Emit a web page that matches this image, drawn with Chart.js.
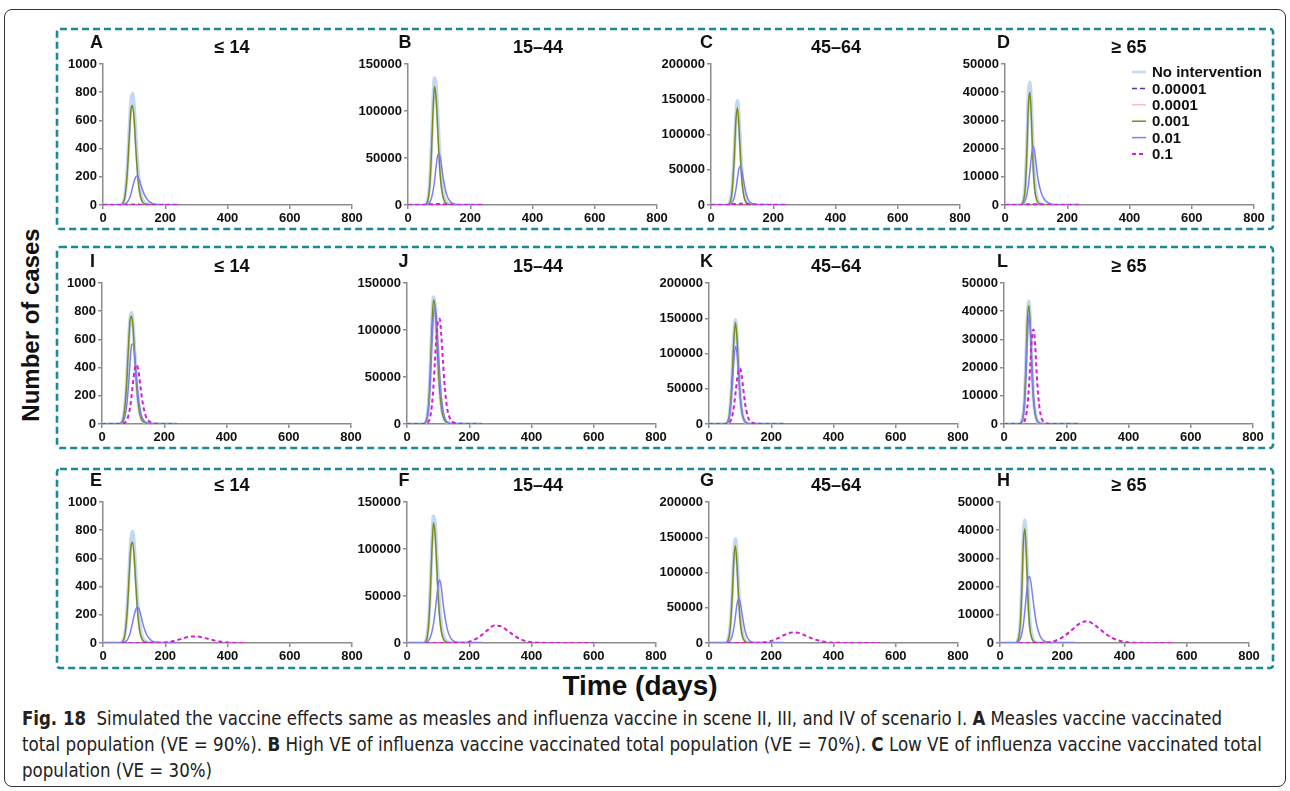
<!DOCTYPE html>
<html>
<head>
<meta charset="utf-8">
<script src="https://cdn.jsdelivr.net/npm/chart.js@4.4.1/dist/chart.umd.min.js"></script>
<style>
  body { margin: 0; background: #fff; width: 1290px; height: 791px; overflow: hidden; position: relative;
         font-family: "Liberation Sans", Arial, sans-serif; }
  .frame { position: absolute; left: 4px; top: 9px; width: 1282px; height: 778px; border: 1.5px solid #333;
           border-radius: 8px; box-sizing: border-box; }
  canvas { position: absolute; }
  .ylab { position: absolute; left: 31px; top: 325px; transform: translate(-50%, -50%) rotate(-90deg);
          font-weight: bold; font-size: 24px; white-space: nowrap; color: #111; }
  .xlab { position: absolute; left: 640px; top: 686px; transform: translate(-50%, -50%);
          font-weight: bold; font-size: 28px; white-space: nowrap; color: #111; }
  .cap { position: absolute; left: 22px; white-space: nowrap; font-size: 19px; line-height: 20px; color: #222;
         font-family: "Liberation Sans Narrow", "DejaVu Sans Condensed", "Open Sans", sans-serif;
         transform-origin: 0 50%; }
</style>
</head>
<body>
<div class="frame"></div>
<svg width="1290" height="791" style="position:absolute;left:0;top:0">
  <g fill="none" stroke="#1d889a" stroke-width="2.6" stroke-dasharray="7 4">
    <rect x="57" y="29" width="1216" height="200" rx="3"/>
    <rect x="57" y="247" width="1216" height="201" rx="3"/>
    <rect x="57" y="469" width="1216" height="199" rx="3"/>
  </g>
</svg>
<div class="ylab">Number of cases</div>
<div class="xlab">Time (days)</div>
<div class="cap" id="cap1" style="top:708px"><b>Fig. 18</b>&nbsp; Simulated the vaccine effects same as measles and influenza vaccine in scene II, III, and IV of scenario I. <b>A</b> Measles vaccine vaccinated</div>
<div class="cap" id="cap2" style="top:734px">total population (VE = 90%). <b>B</b> High VE of influenza vaccine vaccinated total population (VE = 70%). <b>C</b> Low VE of influenza vaccine vaccinated total</div>
<div class="cap" id="cap3" style="top:760px">population (VE = 30%)</div>

<script>
// time grids (days)
const earlyDays = [0, 50, 55, 60, 65, 70, 75, 80, 85, 90, 95, 100, 105, 110, 115, 120, 125, 130, 140, 150, 160, 180, 200, 240];
const lateDays = [60, 140, 160, 180, 200, 220, 240, 260, 280, 300, 320, 340, 360, 380, 400, 420, 450, 500, 550, 600];

const seriesLabels = ['No intervention', '0.00001', '0.0001', '0.001', '0.01', '0.1'];
const ageGroups = ['\u2264 14', '15\u201344', '45\u201364', '\u2265 65'];
const yMaxes = [1000, 150000, 200000, 50000];
const ySteps = [200, 50000, 50000, 10000];
const xTicks = [0, 200, 400, 600, 800];

// no intervention (same in every row)
const noInt14 = [0, 0, 1, 5, 20, 60, 160, 330, 560, 740, 790, 700, 510, 330, 190, 100, 52, 26, 8, 2, 1, 0, 0, 0];
const noInt1544 = [0, 0, 500, 2000, 8000, 25000, 60000, 105000, 135000, 128000, 100000, 66000, 38000, 20000, 10000, 5000, 2500, 1300, 400, 120, 40, 0, 0, 0];
const noInt4564 = [0, 0, 800, 3000, 12000, 35000, 75000, 125000, 148000, 125000, 80000, 42000, 20000, 9000, 4000, 1500, 700, 300, 80, 20, 0, 0, 0, 0];
const noInt65 = [0, 0, 500, 2000, 7000, 20000, 38000, 43500, 35000, 20000, 9000, 4000, 1700, 700, 300, 100, 40, 10, 0, 0, 0, 0, 0, 0];

// row A-D
const oliveA = [0, 0, 1, 4, 16, 52, 145, 300, 510, 675, 705, 610, 420, 250, 130, 62, 28, 12, 4, 1, 0, 0, 0, 0];
const periA = [0, 0, 0, 1, 3, 6, 13, 26, 48, 82, 125, 168, 198, 205, 188, 155, 120, 88, 46, 22, 10, 2, 0, 0];
const magA = [0, 0, 0, 0, 1, 1, 2, 2, 3, 3, 3, 3, 3, 3, 3, 2, 2, 2, 1, 1, 0, 0, 0, 0];
const oliveB = [0, 0, 400, 1500, 6500, 21000, 53000, 97000, 126000, 115000, 84000, 50000, 26000, 12500, 5500, 2400, 1000, 450, 120, 30, 0, 0, 0, 0];
const periB = [0, 0, 100, 300, 1000, 3000, 7000, 14000, 25000, 40000, 52000, 55000, 48000, 36000, 25000, 16500, 10500, 6500, 2500, 900, 300, 50, 0, 0];
const magB = [0, 0, 0, 300, 500, 700, 800, 900, 1000, 1000, 1000, 1000, 1000, 900, 800, 700, 600, 500, 300, 150, 50, 0, 0, 0];
const oliveC = [0, 0, 600, 2500, 10000, 32000, 70000, 120000, 138000, 110000, 65000, 32000, 14000, 6000, 2500, 900, 350, 120, 30, 0, 0, 0, 0, 0];
const periC = [0, 0, 150, 500, 2000, 5000, 11000, 22000, 38000, 52000, 55000, 47000, 34000, 22000, 13000, 7500, 4200, 2500, 800, 200, 50, 0, 0, 0];
const magC = [0, 0, 0, 0, 500, 1000, 1500, 1500, 1800, 1800, 1800, 1800, 1800, 1800, 1500, 1500, 1200, 1000, 800, 500, 300, 0, 0, 0];
const oliveD = [0, 0, 400, 1800, 6000, 18000, 35000, 40000, 30000, 15000, 6000, 2500, 1000, 400, 150, 50, 0, 0, 0, 0, 0, 0, 0, 0];
const periD = [0, 0, 100, 500, 1500, 3500, 7000, 12000, 17500, 20800, 19000, 14500, 10000, 7000, 4800, 3300, 2300, 1500, 700, 300, 120, 30, 0, 0];
const magD = [0, 0, 0, 100, 200, 250, 300, 300, 300, 300, 300, 300, 300, 250, 250, 200, 150, 100, 0, 0, 0, 0, 0, 0];

// row I-L
const oliveI = [0, 0, 1, 4, 18, 58, 155, 320, 545, 730, 765, 680, 490, 310, 175, 90, 45, 22, 7, 2, 0, 0, 0, 0];
const periI = [0, 0, 0, 2, 8, 25, 65, 140, 270, 430, 560, 570, 480, 350, 225, 135, 75, 40, 12, 4, 1, 0, 0, 0];
const magI = [0, 0, 0, 0, 2, 5, 12, 28, 60, 115, 200, 300, 385, 420, 400, 330, 240, 160, 60, 22, 8, 1, 0, 0];
const oliveJ = [0, 0, 480, 1900, 7700, 24000, 58000, 102000, 132000, 125000, 97000, 63000, 36000, 19000, 9500, 4700, 2300, 1200, 350, 100, 30, 0, 0, 0];
const periJ = [0, 0, 400, 1500, 6000, 18000, 45000, 85000, 115000, 125000, 112000, 82000, 52000, 30000, 16000, 8000, 4000, 2000, 500, 100, 0, 0, 0, 0];
const magJ = [0, 0, 50, 200, 1000, 3000, 8000, 20000, 40000, 68000, 95000, 110000, 112000, 95000, 70000, 45000, 27000, 15000, 4500, 1500, 500, 150, 50, 0];
const oliveK = [0, 0, 780, 2900, 11700, 34000, 73000, 121000, 144000, 121000, 77000, 40000, 19000, 8500, 3700, 1400, 600, 250, 60, 15, 0, 0, 0, 0];
const periK = [0, 0, 500, 2000, 8000, 25000, 55000, 90000, 110000, 100000, 70000, 40000, 20000, 9000, 4000, 1600, 700, 400, 100, 0, 0, 0, 0, 0];
const magK = [0, 0, 50, 300, 1500, 5000, 12000, 25000, 43000, 62000, 76000, 79000, 68000, 50000, 32000, 19000, 10000, 5000, 1500, 500, 200, 60, 20, 0];
const oliveL = [0, 0, 480, 1950, 6800, 19500, 37000, 42000, 33500, 18500, 8200, 3600, 1500, 600, 250, 80, 30, 0, 0, 0, 0, 0, 0, 0];
const periL = [0, 0, 400, 1600, 5500, 15000, 30000, 38500, 33000, 20000, 9500, 4000, 1700, 700, 300, 100, 0, 0, 0, 0, 0, 0, 0, 0];
const magL = [0, 0, 50, 200, 800, 2500, 6000, 13000, 22000, 31000, 33500, 28000, 18000, 10000, 5000, 2300, 1100, 500, 120, 30, 0, 0, 0, 0];

// row E-H (0.1 series on lateDays)
const oliveE = [0, 0, 1, 4, 16, 52, 148, 305, 520, 685, 715, 620, 430, 255, 132, 63, 29, 12, 4, 1, 0, 0, 0, 0];
const periE = [0, 0, 0, 1, 3, 7, 15, 30, 55, 95, 145, 195, 235, 255, 245, 210, 165, 120, 60, 28, 12, 2, 0, 0];
const magE = [0, 1, 1, 2, 4, 10, 22, 35, 45, 47, 40, 28, 17, 9, 4, 1, 0, null, null, null];
const oliveF = [0, 0, 400, 1500, 6500, 21500, 54000, 98000, 128000, 117000, 86000, 51000, 27000, 13000, 5700, 2500, 1050, 470, 130, 30, 0, 0, 0, 0];
const periF = [0, 0, 100, 300, 1000, 3000, 6500, 12000, 20000, 32000, 47000, 62000, 67000, 60000, 45000, 32000, 22000, 14000, 5500, 2000, 700, 80, 0, 0];
const magF = [0, 100, 150, 300, 1500, 4000, 8500, 14000, 18500, 18000, 14000, 9000, 4800, 2200, 900, 350, 100, 20, 5, 0];
const periG = [0, 0, 150, 500, 2000, 5000, 11000, 22000, 38000, 55000, 63000, 58000, 45000, 31000, 19000, 11000, 6500, 3500, 1000, 300, 80, 0, 0, 0];
const magG = [0, 100, 200, 1000, 3000, 6500, 11000, 14500, 15000, 12500, 8500, 5000, 2500, 1100, 450, 180, 50, 10, 0, null];
const oliveH = [0, 0, 400, 1750, 6100, 18200, 35500, 40500, 30500, 15200, 6100, 2500, 1000, 400, 150, 50, 0, 0, 0, 0, 0, 0, 0, 0];
const periH = [0, 0, 100, 500, 1400, 3200, 6500, 11500, 17500, 22500, 23600, 21000, 16500, 12000, 8200, 5400, 3600, 2200, 850, 300, 100, 20, 0, 0];
const magH = [0, 50, 300, 900, 2000, 3600, 5500, 7200, 7700, 6700, 5000, 3200, 1800, 900, 400, 150, 50, 10, 0, null];

const noIntByAge = [noInt14, noInt1544, noInt4564, noInt65];

// layout
const AXIS_W = 64, PAD_T = 44, PAD_R = 18, XAXIS_H = 26, PLOT_W = 249, PLOT_H = 141;
const AXIS_COLOR = '#8c8c8c';
const FONT = '"Liberation Sans", Arial, sans-serif';
const letterX = [90, 398.5, 700, 997];
const titleX = [232, 538, 836, 1129];

const seriesStyle = [
  { color: '#c3d9f3', width: 3.5, dash: [], order: 3 },
  { color: '#3c3cb4', width: 1.5, dash: [5, 3], order: 5 },
  { color: '#f6b9d9', width: 1.5, dash: [], order: 4 },
  { color: '#7b8a1c', width: 1.5, dash: [], order: 2 },
  { color: '#7f7ff2', width: 1.5, dash: [], order: 1 },
  { color: '#d21fd2', width: 2, dash: [4, 3], order: 0 },
];

const panels = [
  { letter: 'A', col: 0, x: 103, y: 64, olive: oliveA, peri: periA, mag: magA, magDays: earlyDays },
  { letter: 'B', col: 1, x: 408, y: 64, olive: oliveB, peri: periB, mag: magB, magDays: earlyDays },
  { letter: 'C', col: 2, x: 711, y: 64, olive: oliveC, peri: periC, mag: magC, magDays: earlyDays },
  { letter: 'D', col: 3, x: 1005, y: 64, olive: oliveD, peri: periD, mag: magD, magDays: earlyDays, legend: true },
  { letter: 'I', col: 0, x: 102, y: 283, olive: oliveI, peri: periI, mag: magI, magDays: earlyDays },
  { letter: 'J', col: 1, x: 407, y: 283, olive: oliveJ, peri: periJ, mag: magJ, magDays: earlyDays },
  { letter: 'K', col: 2, x: 709, y: 283, olive: oliveK, peri: periK, mag: magK, magDays: earlyDays },
  { letter: 'L', col: 3, x: 1004, y: 283, olive: oliveL, peri: periL, mag: magL, magDays: earlyDays },
  { letter: 'E', col: 0, x: 103, y: 502, olive: oliveE, peri: periE, mag: magE, magDays: lateDays },
  { letter: 'F', col: 1, x: 407, y: 502, olive: oliveF, peri: periF, mag: magF, magDays: lateDays },
  { letter: 'G', col: 2, x: 709, y: 502, olive: oliveC, peri: periG, mag: magG, magDays: lateDays },
  { letter: 'H', col: 3, x: 1000, y: 502, olive: oliveH, peri: periH, mag: magH, magDays: lateDays },
];

function toPoints(xs, ys) {
  return ys.map((v, i) => ({ x: xs[i], y: v }));
}

// panel letter, age title and (panel D) the legend
const panelText = {
  id: 'panelText',
  afterDraw(chart, args, opts) {
    const { ctx, chartArea: a } = chart;
    ctx.save();
    ctx.fillStyle = '#111';
    ctx.textBaseline = 'middle';
    ctx.font = 'bold 18px ' + FONT;
    ctx.textAlign = 'left';
    ctx.fillText(opts.letter, opts.letterX - opts.left, a.top - 21);
    ctx.textAlign = 'center';
    ctx.fillText(opts.title, opts.titleX - opts.left, a.top - 16);
    if (opts.legend) {
      ctx.font = 'bold 15px ' + FONT;
      ctx.textAlign = 'left';
      const lx = 1132 - opts.left;
      chart.data.datasets.forEach((ds, i) => {
        const yy = a.top + 8 + i * 16.4;
        ctx.strokeStyle = ds.borderColor;
        ctx.lineWidth = Math.min(ds.borderWidth, 2.5);
        ctx.setLineDash(ds.borderDash);
        ctx.beginPath();
        ctx.moveTo(lx, yy);
        ctx.lineTo(lx + 14, yy);
        ctx.stroke();
        ctx.setLineDash([]);
        ctx.fillText(ds.label, lx + 20, yy + 1);
      });
    }
    ctx.restore();
  }
};

function makePanel(p) {
  const canvas = document.createElement('canvas');
  const left = p.x - AXIS_W, top = p.y - PAD_T;
  canvas.width = AXIS_W + PLOT_W + PAD_R;
  canvas.height = PAD_T + PLOT_H + XAXIS_H;
  canvas.style.left = left + 'px';
  canvas.style.top = top + 'px';
  document.body.appendChild(canvas);

  const noInt = noIntByAge[p.col];
  const values = [noInt, noInt, noInt, p.olive, p.peri, p.mag];
  const datasets = values.map((vals, i) => ({
    label: seriesLabels[i],
    data: toPoints(i === 5 ? p.magDays : earlyDays, vals),
    borderColor: seriesStyle[i].color,
    borderWidth: seriesStyle[i].width,
    borderDash: seriesStyle[i].dash,
    order: seriesStyle[i].order,
    fill: false,
    pointRadius: 0,
    cubicInterpolationMode: 'monotone',
  }));

  const yMax = yMaxes[p.col];
  const yStep = ySteps[p.col];
  const yTicks = [];
  for (let v = 0; v <= yMax; v += yStep) yTicks.push(v);
  const tickFont = { family: FONT, size: 13, weight: 'bold' };

  new Chart(canvas, {
    type: 'line',
    data: { datasets },
    options: {
      responsive: false,
      animation: false,
      devicePixelRatio: 1,
      layout: { padding: { top: PAD_T, right: PAD_R, left: 0, bottom: 0 } },
      plugins: {
        legend: { display: false },
        tooltip: { enabled: false },
        panelText: {
          letter: p.letter, title: ageGroups[p.col], legend: !!p.legend,
          left: left, letterX: letterX[p.col], titleX: titleX[p.col]
        }
      },
      scales: {
        x: {
          type: 'linear', min: 0, max: 800,
          afterBuildTicks: s => { s.ticks = xTicks.map(v => ({ value: v })); },
          ticks: { font: tickFont, color: '#111', padding: 2, maxRotation: 0, autoSkip: false,
                   callback: v => String(v) },
          grid: { drawOnChartArea: false, tickLength: 4, color: AXIS_COLOR, lineWidth: 1.5 },
          border: { color: AXIS_COLOR, width: 1.5 },
          afterFit: s => { s.height = XAXIS_H; }
        },
        y: {
          min: 0, max: yMax,
          afterBuildTicks: s => { s.ticks = yTicks.map(v => ({ value: v })); },
          ticks: { font: tickFont, color: '#111', padding: 2, autoSkip: false, callback: v => String(v) },
          grid: { drawOnChartArea: false, tickLength: 4, color: AXIS_COLOR, lineWidth: 1.5 },
          border: { color: AXIS_COLOR, width: 1.5 },
          afterFit: s => { s.width = AXIS_W; }
        }
      }
    },
    plugins: [panelText]
  });
}

panels.forEach(makePanel);

// fit caption lines to the widths seen in the figure
const capWidths = { cap1: 1200, cap2: 1240, cap3: 190 };
Object.keys(capWidths).forEach(id => {
  const el = document.getElementById(id);
  const w = el.getBoundingClientRect().width;
  el.style.transform = 'scaleX(' + (capWidths[id] / w) + ')';
});
</script>
</body>
</html>
